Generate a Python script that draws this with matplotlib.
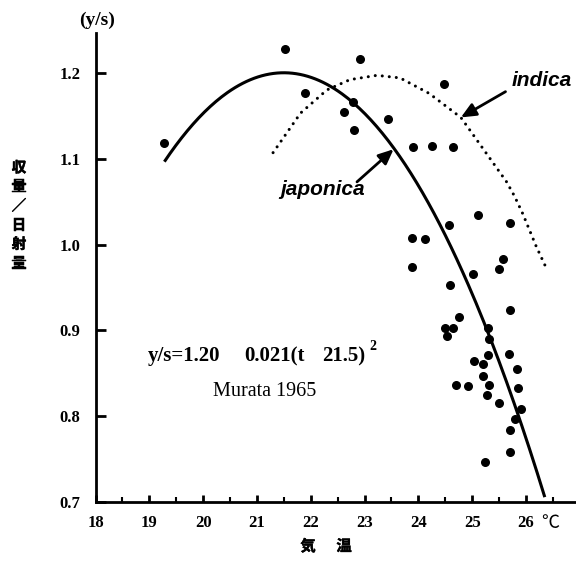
import numpy as np
import matplotlib.pyplot as plt
import matplotlib.patheffects as pe
from matplotlib.ticker import MultipleLocator

# observed yield / solar radiation vs mean temperature
temp = [19.27, 21.52, 22.91, 21.89, 22.79, 22.62, 22.81, 23.43, 24.48, 23.90,
        24.25, 24.65, 25.10, 24.57, 25.70, 23.88, 24.13, 23.88, 25.58, 25.49,
        25.02, 24.58, 25.70, 24.75, 24.50, 24.65, 24.54, 25.30, 25.32, 25.30,
        25.69, 25.04, 25.21, 25.83, 25.21, 24.70, 24.93, 25.31, 25.85, 25.28,
        25.49, 25.91, 25.79, 25.70, 25.70, 25.24]
ratio = [1.118, 1.228, 1.216, 1.176, 1.166, 1.154, 1.133, 1.146, 1.187, 1.114,
         1.115, 1.114, 1.035, 1.023, 1.025, 1.008, 1.007, 0.974, 0.983, 0.972,
         0.966, 0.953, 0.924, 0.916, 0.903, 0.903, 0.894, 0.903, 0.890, 0.872,
         0.873, 0.865, 0.861, 0.855, 0.847, 0.836, 0.835, 0.836, 0.833, 0.825,
         0.816, 0.809, 0.797, 0.784, 0.758, 0.747]

# japonica regression (Murata 1965): y/s = a - b (t - t0)^2
jap_a, jap_b, jap_t0 = 1.20, 0.021, 21.5
jap_range = (19.28, 26.35)

# indica curve
ind_t = [21.30, 21.81, 22.30, 22.73, 23.23, 23.66, 24.20, 24.79, 25.64, 25.79,
         25.94, 26.19, 26.39]
ind_y = [1.107, 1.153, 1.180, 1.192, 1.197, 1.194, 1.176, 1.148, 1.073, 1.056,
         1.036, 0.998, 0.971]

xticks = [18, 19, 20, 21, 22, 23, 24, 25, 26]
yticks = [0.7, 0.8, 0.9, 1.0, 1.1, 1.2]

serif = 'Liberation Serif'
sans = 'Liberation Sans'
cjk = ['Noto Sans CJK JP', 'DejaVu Sans']
thick = [pe.withStroke(linewidth=0.35, foreground='black')]

W, H = 576, 562


def px(x, y):
    # pixel position (from top-left) to figure fraction
    return x / W, 1 - y / H


fig = plt.figure(figsize=(W / 100, H / 100), dpi=100)
ax = fig.add_axes([0.1658, 0.1062, 1 - 0.1658, 0.9413 - 0.1062])
ax.set_xlim(18, 26.93)
ax.set_ylim(0.7, 1.2463)

for s in ['top', 'right']:
    ax.spines[s].set_visible(False)
for s in ['left', 'bottom']:
    ax.spines[s].set_linewidth(2)

ax.set_xticks(xticks)
ax.set_yticks(yticks)
ax.xaxis.set_minor_locator(MultipleLocator(0.5))
ax.set_xticklabels([str(t) for t in xticks])
ax.set_yticklabels(['%.1f' % t for t in yticks])
ax.tick_params(axis='y', direction='in', length=7, width=2, pad=11)
ax.tick_params(axis='x', which='major', direction='in', length=5, width=2, pad=9)
ax.tick_params(axis='x', which='minor', direction='in', length=3.5, width=1.5)
for lab in ax.get_xticklabels() + ax.get_yticklabels():
    lab.set_fontfamily(serif)
    lab.set_fontweight('bold')
    lab.set_fontsize(12)

ax.scatter(temp, ratio, s=30, color='black', zorder=3, clip_on=False)

t = np.linspace(jap_range[0], jap_range[1], 200)
ax.plot(t, jap_a - jap_b * (t - jap_t0) ** 2, color='black', lw=2.2,
        solid_capstyle='butt')
ax.plot(ind_t, ind_y, color='black', lw=2.2, linestyle=(0, (0.01, 2.3)),
        dash_capstyle='round')

# curve labels with arrows
arrow = dict(arrowstyle='-|>,head_length=0.9,head_width=0.4', color='black',
             lw=2, shrinkA=0, shrinkB=0)
ax.annotate('', xy=(23.54, 1.111), xytext=(22.86, 1.073), arrowprops=arrow)
ax.annotate('', xy=(24.79, 1.148), xytext=(25.62, 1.178), arrowprops=arrow)
ax.text(22.22, 1.064, 'japonica', fontsize=15, fontweight='bold',
        style='italic', family=sans, ha='center', va='center')
ax.text(26.29, 1.191, 'indica', fontsize=15, fontweight='bold',
        style='italic', family=sans, ha='center', va='center')

# regression equation
eq_kw = dict(family=serif, fontweight='bold', fontsize=15, va='baseline')
fig.text(*px(148, 361), 'y/s=1.20', ha='left', **eq_kw)
fig.text(*px(244, 361), '0.021(t', ha='left', **eq_kw)
fig.text(*px(322, 361), '21.5)', ha='left', **eq_kw)
fig.text(*px(369, 350), '2', family=serif, fontweight='bold', fontsize=10,
         ha='left', va='baseline')
fig.text(*px(265, 392), 'Murata 1965', family=serif, fontsize=14.5,
         ha='center', va='center')

# axis captions
fig.text(*px(97, 20), '(y/s)', family=serif, fontweight='bold',
         fontsize=14, ha='center', va='center')
fig.text(*px(550, 523), '℃', family=cjk, fontsize=13,
         ha='center', va='center')
fig.text(*px(308, 546), '気', family=cjk, fontweight='bold', fontsize=11,
         ha='center', va='center', path_effects=thick)
fig.text(*px(344, 546), '温', family=cjk, fontweight='bold', fontsize=11,
         ha='center', va='center', path_effects=thick)
fig.text(*px(19, 215), '収\n量\n／\n日\n射\n量', family=cjk,
         fontweight='bold', fontsize=10.5, ha='center', va='center',
         linespacing=1.24, path_effects=thick)

fig.savefig('out.png', dpi=100)
